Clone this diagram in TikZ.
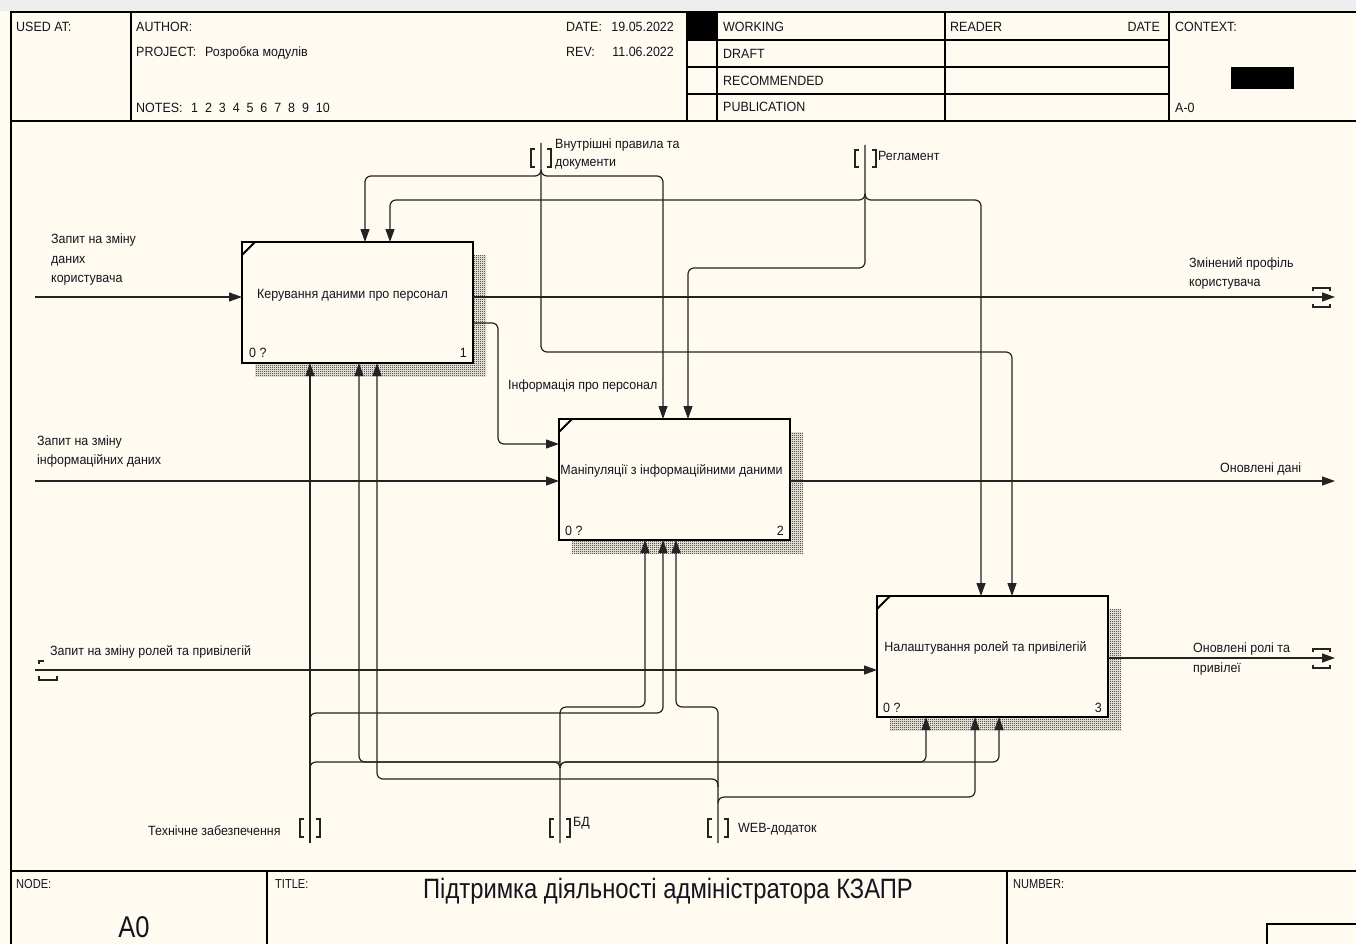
\documentclass[tikz,border=0pt]{standalone}
\usepackage{fontspec}
\setmainfont{Liberation Sans}
\newfontfamily\condfont{Liberation Sans}[FakeStretch=0.85]
\newfontfamily\lblfont{Liberation Sans}[FakeStretch=0.93]
\usetikzlibrary{arrows.meta,patterns.meta,calc}
\definecolor{bg}{RGB}{255,251,240}
\definecolor{topgray}{RGB}{238,238,238}
\definecolor{ln}{RGB}{35,35,35}
\definecolor{txt}{RGB}{20,20,30}
\newcommand{\lblf}{\lblfont\fontsize{13.4}{15}\selectfont}
\newcommand{\footf}{\condfont\fontsize{13}{15}\selectfont}
\newcommand{\titlef}{\condfont\fontsize{28}{32}\selectfont}
\newcommand{\anodef}{\condfont\fontsize{30}{34}\selectfont}
\tikzdeclarepattern{
  name=dither,
  type=uncolored,
  bottom left={(0pt,0pt)},
  top right={(2pt,2pt)},
  tile size={(2pt,2pt)},
  code={
    \pgfpathrectangle{\pgfpoint{0pt}{0pt}}{\pgfpoint{1pt}{1pt}}
    \pgfpathrectangle{\pgfpoint{1pt}{1pt}}{\pgfpoint{1pt}{1pt}}
    \pgfusepath{fill}
  }
}
\tikzset{
  lbl/.style={anchor=base west, inner sep=0pt, font=\lblf, text=txt},
  lblr/.style={anchor=base east, inner sep=0pt, font=\lblf, text=txt},
  lblc/.style={anchor=base, inner sep=0pt, font=\lblf, text=txt},
  fbox/.style={draw=black, line width=2.2pt, fill=bg, minimum width=231pt, minimum height=121pt, inner sep=0pt, outer sep=0pt},
  shadow/.style={pattern=dither, pattern color=black},
  arr/.style={draw=ln, line width=1.2pt, rounded corners=6pt, -{Triangle[length=13pt,width=9pt]}},
  conn/.style={draw=ln, line width=1.2pt, rounded corners=6pt},
  brk/.style={draw=ln, line width=1.2pt},
  gridline/.style={draw=black, line width=1.3pt},
  frame/.style={draw=black, line width=2.2pt},
}
\begin{document}
\begin{tikzpicture}[x=1pt,y=-1pt]
\useasboundingbox (0,0) rectangle (1356,944);
\fill[bg] (0,0) rectangle (1356,944);
\fill[topgray] (0,0) rectangle (1356,11);
% frame
\draw[frame] (11,950) -- (11,12) -- (1362,12);
\draw[frame] (11,121) -- (1362,121);
\draw[frame] (11,871) -- (1362,871);
% header grid
\foreach \x in {131,687,717,945,1169} \draw[gridline] (\x,12) -- (\x,121);
\foreach \y in {40,67,94} \draw[gridline] (687,\y) -- (1169,\y);
\fill[black] (687,12) rectangle (717,40);
\fill[black] (1231,67) rectangle (1294,89);
% footer grid
\draw[gridline] (267,871) -- (267,950);
\draw[gridline] (1007,871) -- (1007,950);
\draw[gridline] (1267,950) -- (1267,924) -- (1362,924);
% header texts
\node[lbl] (usedat) at (16,32) {USED AT:};
\node[lbl] (author) at (136,32) {AUTHOR:};
\node[lbl] (project) at (136,57) {PROJECT:};
\node[lbl] (projv) at (205,57) {Розробка модулів};
\node[lbl] (notes) at (136,113) {NOTES:};
\node[lbl] (notesv) at (191,113) {1~~2~~3~~4~~5~~6~~7~~8~~9~~10};
\node[lbl] (date) at (566,32) {DATE:};
\node[lblr] (datev) at (674,32) {19.05.2022};
\node[lbl] (rev) at (566,57) {REV:};
\node[lblr] (revv) at (674,57) {11.06.2022};
\node[lbl] (working) at (723,32) {WORKING};
\node[lbl] (draft) at (723,59) {DRAFT};
\node[lbl] (recom) at (723,86) {RECOMMENDED};
\node[lbl] (publ) at (723,112) {PUBLICATION};
\node[lbl] (reader) at (950,32) {READER};
\node[lblr] (rdate) at (1160,32) {DATE};
\node[lbl] (context) at (1175,32) {CONTEXT:};
\node[lbl] (actx) at (1175,113) {A-0};
% footer texts
\node[lbl, font=\footf] (nodel) at (16,888) {NODE:};
\node[lbl, font=\footf] (titlel) at (275,888) {TITLE:};
\node[lbl, font=\footf] (numberl) at (1013,888) {NUMBER:};
\node[anchor=base, inner sep=0pt, font=\titlef, text=txt] (title) at (668,898) {Підтримка діяльності адміністратора КЗАПР};
\node[anchor=base, inner sep=0pt, font=\anodef, text=txt] (anode) at (134,937) {A0};
% shadows
\fill[shadow] (255,255) rectangle (486,376);
\fill[shadow] (572,432) rectangle (803,553);
\fill[shadow] (890,609) rectangle (1121,730);
% boxes
\node[fbox] (b1) at (357.5,302.5) {};
\node[fbox] (b2) at (674.5,479.5) {};
\node[fbox] (b3) at (992.5,656.5) {};
\foreach \b in {b1,b2,b3} \draw[line width=1.8pt] ($(\b.north west)+(0,13)$) -- ($(\b.north west)+(13,0)$);
\node[lblc] (t1) at (352.5,298) {Керування даними про персонал};
\node[lblc] (t2) at (671.5,474) {Маніпуляції з інформаційними даними};
\node[lblc] (t3) at (985.5,651) {Налаштування ролей та привілегій};
\node[lbl] (n1) at (249,357) {0 ?};
\node[lblr] (k1) at (467,357) {1};
\node[lbl] (n2) at (565,535) {0 ?};
\node[lblr] (k2) at (784,535) {2};
\node[lbl] (n3) at (883,712) {0 ?};
\node[lblr] (k3) at (1102,712) {3};
% inputs / outputs
\coordinate (in1) at (35,297);
\coordinate (out1) at (1335,297);
\coordinate (in2) at (35,481);
\coordinate (out2) at (1335,481);
\coordinate (in3) at (35,670);
\coordinate (out3) at (1335,658);
\draw[arr] (in1) -- (in1 -| b1.west);
\draw[arr] (out1 -| b1.east) -- (out1);
\draw[arr] (b1.east |- 0,323) -- (498,323) -- (498,444) -- (b2.west |- 0,444);
\draw[arr] (in2) -- (in2 -| b2.west);
\draw[arr] (out2 -| b2.east) -- (out2);
\draw[arr] (in3) -- (in3 -| b3.west);
\draw[arr] (out3 -| b3.east) -- (out3);
% tunnel brackets (horizontal)
\draw[brk] (1313,291) -- (1313,288) -- (1330,288) -- (1330,291);
\draw[brk] (1313,304) -- (1313,307) -- (1330,307) -- (1330,304);
\draw[brk] (1313,652) -- (1313,649) -- (1330,649) -- (1330,652);
\draw[brk] (1313,665) -- (1313,668) -- (1330,668) -- (1330,665);
\draw[brk] (39,664) -- (39,661) -- (44,661);
\draw[brk] (39,676) -- (39,680) -- (57,680) -- (57,676);
% controls
\coordinate (c1) at (541,143);
\coordinate (c2) at (865,145);
\draw[arr] (c1) -- (541,352) -- (1012,352) -- (b3.north -| 1012,0);
\draw[arr] (541,170) -- (541,176) -- (365,176) -- (b1.north -| 365,0);
\draw[arr] (541,170) -- (541,176) -- (663,176) -- (b2.north -| 663,0);
\draw[arr] (c2) -- (865,268) -- (688,268) -- (b2.north -| 688,0);
\draw[arr] (865,194) -- (865,200) -- (390,200) -- (b1.north -| 390,0);
\draw[arr] (865,194) -- (865,200) -- (981,200) -- (b3.north -| 981,0);
\draw[brk] (535,149) -- (531,149) -- (531,167) -- (535,167);
\draw[brk] (547,149) -- (551,149) -- (551,167) -- (547,167);
\draw[brk] (859,150) -- (855,150) -- (855,167) -- (859,167);
\draw[brk] (872,150) -- (876,150) -- (876,167) -- (872,167);
% mechanisms
\coordinate (m1) at (310,843);
\coordinate (m2) at (560,843);
\coordinate (m3) at (718,843);
\draw[arr] (m1) -- (b1.south -| m1);
\draw[arr] (310,719) -- (310,713) -- (663,713) -- (b2.south -| 663,0);
\draw[conn] (310,768) -- (310,762) -- (560,762);
\draw[arr] (m2) -- (560,707) -- (645,707) -- (b2.south -| 645,0);
\draw[arr] (560,768) -- (560,762) -- (359,762) -- (b1.south -| 359,0);
\draw[arr] (560,768) -- (560,762) -- (926,762) -- (b3.south -| 926,0);
\draw[arr] (560,768) -- (560,762) -- (999,762) -- (b3.south -| 999,0);
\draw[arr] (m3) -- (718,707) -- (676,707) -- (b2.south -| 676,0);
\draw[arr] (718,787) -- (718,779) -- (377,779) -- (b1.south -| 377,0);
\draw[arr] (718,803) -- (718,797) -- (975,797) -- (b3.south -| 975,0);
\draw[brk] (304,819) -- (300,819) -- (300,837) -- (304,837);
\draw[brk] (316,819) -- (320,819) -- (320,837) -- (316,837);
\draw[brk] (554,819) -- (550,819) -- (550,837) -- (554,837);
\draw[brk] (566,819) -- (570,819) -- (570,837) -- (566,837);
\draw[brk] (712,819) -- (708,819) -- (708,837) -- (712,837);
\draw[brk] (724,819) -- (728,819) -- (728,837) -- (724,837);
% connector labels
\node[lbl] (la1) at (51,243.5) {Запит на зміну};
\node[lbl] (la2) at (51,263) {даних};
\node[lbl] (la3) at (51,282.5) {користувача};
\node[lbl] (lb1) at (1189,267) {Змінений профіль};
\node[lbl] (lb2) at (1189,286) {користувача};
\node[lbl] (lc) at (508,389) {Інформація про персонал};
\node[lbl] (ld1) at (37,445) {Запит на зміну};
\node[lbl] (ld2) at (37,464) {інформаційних даних};
\node[lbl] (le) at (1220,472) {Оновлені дані};
\node[lbl] (lf) at (50,655) {Запит на зміну ролей та привілегій};
\node[lbl] (lg1) at (1193,652) {Оновлені ролі та};
\node[lbl] (lg2) at (1193,672) {привілеї};
\node[lbl] (lh1) at (555,149) {Внутрішні правила та};
\node[lbl] (lh2) at (555,167) {документи};
\node[lbl] (li) at (878,161) {Регламент};
\node[lbl] (lj) at (148,835) {Технічне забезпечення};
\node[lbl] (lk) at (573,826) {БД};
\node[lbl] (ll) at (738,832) {WEB-додаток};
\end{tikzpicture}
\end{document}
